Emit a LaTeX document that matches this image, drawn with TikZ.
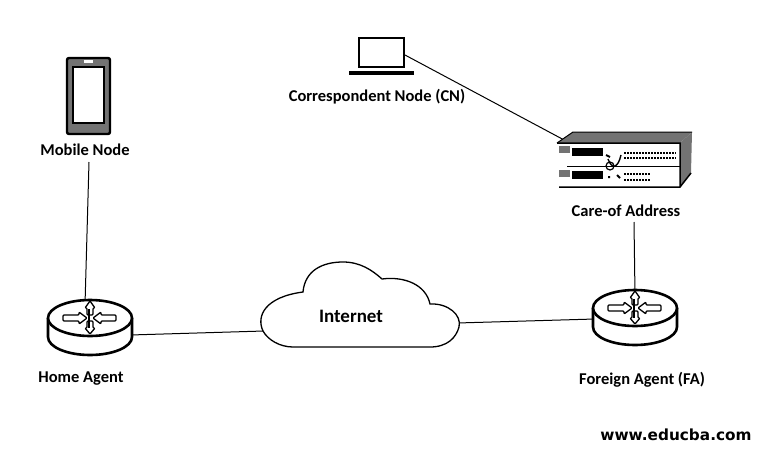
\documentclass[tikz,border=0pt]{standalone}
\usepackage{fontspec}
\setmainfont{Carlito}
\newfontfamily\urlfont{DejaVu Sans}
\usetikzlibrary{patterns}
\tikzset{
  lbl/.style={font=\fontsize{16.5}{18}\selectfont\bfseries, inner sep=0pt},
  link/.style={line width=1pt},
  icon/.style={line width=2.6pt, fill=white},
  rarrow/.style={line width=1.3pt, fill=white, rounded corners=1pt},
  dither/.style={fill=black!55}
}
\begin{document}
\begin{tikzpicture}[x=1pt, y=-1pt]

  \newcommand\RX{42};
  \newcommand\RY{18};
  \newcommand\RH{19};

  % one router, centre given in #1
  \newcommand\ROUTER[1]{
    \begin{scope}[shift={(#1)}]
      \draw[icon] (-\RX, 0) -- (-\RX, \RH) arc[start angle=180, end angle=0, x radius=\RX, y radius=\RY]
      -- (\RX, 0);
      \draw[icon] (0, 0) ellipse[x radius=\RX, y radius=\RY];
      \draw[rarrow] (-27,-3) -- (-11,-3) -- (-11,-6) -- (-3,0) -- (-11,6) -- (-11,3) -- (-27,3) -- cycle;
      \draw[rarrow] (26,-3) -- (11,-3) -- (11,-6) -- (3,0) -- (11,6) -- (11,3) -- (26,3) -- cycle;
      \draw[rarrow] (-3,-3) -- (-3,-10) -- (-5,-10) -- (0,-17) -- (5,-10) -- (3,-10) -- (3,-3) -- cycle;
      \draw[rarrow] (-3,3) -- (-3,10) -- (-5,10) -- (0,16) -- (5,10) -- (3,10) -- (3,3) -- cycle;
      \draw[line width=2.6pt] (-1,-9) -- (-1,10);
    \end{scope}
  }

  \useasboundingbox (0,0) rectangle (760,450);

  % labels
  \node[lbl] (mobilenode) at (85,150) {Mobile Node};
  \node[lbl] (correspondent) at (377,97) {Correspondent Node (CN)};
  \node[lbl] (careof) at (626,211) {Care-of Address};
  \node[lbl] (homeagent) at (81,379) {Home Agent};
  \node[lbl] (foreignagent) at (642,380) {Foreign Agent (FA)};
  \node[font=\urlfont\fontsize{15.3}{17}\selectfont\bfseries, inner sep=0pt] (website) at (676,435) {www.educba.com};

  % connector ends
  \coordinate (mobiledown) at (89,162);
  \coordinate (hometop) at (85,305);
  \coordinate (homeright) at (130,335);
  \coordinate (cloudleft) at (264,331);
  \coordinate (cloudright) at (457,323);
  \coordinate (foreignleft) at (595,319);
  \coordinate (foreigntop) at (635,295);
  \coordinate (careofdown) at (634,222);
  \coordinate (laptopright) at (405,55);
  \coordinate (serverleft) at (566,141);

  \draw[link] (mobiledown) -- (hometop);
  \draw[link] (homeright) -- (cloudleft);
  \draw[link] (cloudright) -- (foreignleft);
  \draw[link] (careofdown) -- (foreigntop);
  \draw[link] (laptopright) -- (serverleft);

  \ROUTER{90,318}
  \ROUTER{635,308}

  % cloud
  \draw[line width=1.3pt, fill=white] (263,331)
  .. controls (256,316) and (265,297) .. (303,292)
  .. controls (305,270) and (323,262) .. (343,262)
  .. controls (360,262) and (372,270) .. (382,279)
  .. controls (405,276) and (426,285) .. (430,304)
  .. controls (448,303) and (462,315) .. (459,327)
  .. controls (456,338) and (447,347) .. (430,347)
  -- (293,347)
  .. controls (280,347) and (268,340) .. (263,331) -- cycle;
  \node[lbl, font=\fontsize{19}{21}\selectfont\bfseries] (internet) at (351,316) {Internet};

  % phone
  \draw[line width=2.4pt, dither, rounded corners=2pt] (67,58) rectangle (110,134);
  \draw[line width=1.2pt, fill=white] (73,67) rectangle (104,123);
  \fill[white] (84,60) rectangle (93,63);

  % laptop
  \draw[line width=2.8pt] (359,38) rectangle (404,67);
  \draw[line width=3.2pt] (349,73) -- (414,73);

  % server
  \fill[dither] (557,143) -- (573,132) -- (692,132) -- (680,143) -- cycle;
  \fill[dither] (680,143) -- (692,132) -- (691,173) -- (680,187) -- cycle;
  \draw[line width=1pt] (557,143) -- (573,132) -- (692,132);
  \draw[line width=1.5pt] (691,173) -- (680,187) -- (559,187) (557,143) -- (680,143) -- (680,187);
  \draw[line width=1.5pt] (567,166.5) -- (680,166.5);
  \fill[dither] (559,146) rectangle (570,153);
  \fill[dither] (559,170) rectangle (570,177);
  \fill (572,148) rectangle (603,156);
  \fill (572,171) rectangle (603,179);
  \draw[line width=1.4pt] (608,159) .. controls (612,170) and (618,168) .. (621,155);
  \draw[line width=1.2pt] (610,166) circle[radius=4];
  \draw[line width=2pt] (608,177) -- (610,177) (617,175) -- (620,178) (606,155) -- (610,157);
  \draw[line width=2pt, dash pattern=on 2pt off 1pt] (624,153) -- (676,153) (624,158) -- (676,158);
  \draw[line width=2pt, dash pattern=on 2pt off 1pt] (624,174) -- (650,174) (624,180) -- (650,180);

\end{tikzpicture}
\end{document}
